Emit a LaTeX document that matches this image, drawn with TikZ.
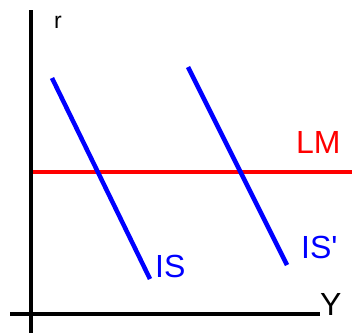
\documentclass[tikz,border=0pt]{standalone}
\usepackage{fontspec}
\setmainfont{Liberation Sans}
\begin{document}
\begin{tikzpicture}[x=1pt,y=-1pt,
  axis/.style={line width=4pt,black},
  isline/.style={line width=4.5pt,blue},
  lmline/.style={line width=4pt,red},
  lbl/.style={inner sep=0pt,font=\fontsize{32}{32}\selectfont}]
\useasboundingbox[fill=white] (0,0) rectangle (355,333);
\coordinate (vt) at (31,10);
\coordinate (vb) at (31,333);
\coordinate (hl) at (10,314);
\coordinate (hr) at (320,314);
\draw[axis] (vt) -- (vb);
\draw[axis] (hl) -- (hr);
\coordinate (lml) at (33,172);
\coordinate (lmr) at (352,172);
\draw[lmline] (lml) -- (lmr);
\coordinate (is1a) at (52,78);
\coordinate (is1b) at (150,279);
\draw[isline] (is1a) -- (is1b);
\coordinate (is2a) at (188,67);
\coordinate (is2b) at (287,265);
\draw[isline] (is2a) -- (is2b);
\node[lbl,anchor=south west,font=\fontsize{23}{23}\selectfont] (r) at (54,29) {r};
\node[lbl,anchor=base west] (Y) at (320,315) {Y};
\node[lbl,anchor=base west,red] (LM) at (296,153) {LM};
\node[lbl,anchor=base west,blue] (IS) at (155,277) {IS};
\node[lbl,anchor=base west,blue] (ISp) at (301,258) {IS\textquotesingle};
\end{tikzpicture}
\end{document}
